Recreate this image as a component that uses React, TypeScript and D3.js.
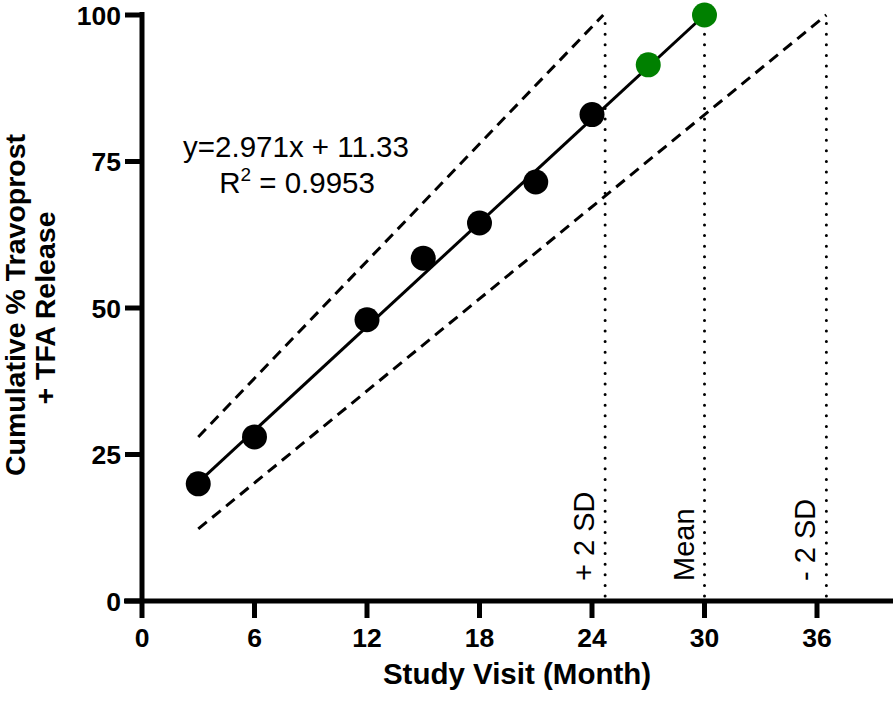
import React from "react";
import * as d3 from "d3";

const blackX = [3, 6, 12, 15, 18, 21, 24];
const blackY = [20, 28, 48, 58.5, 64.5, 71.5, 83];
const greenX = [27, 30];
const greenY = [91.5, 100];
const xTicks = [0, 6, 12, 18, 24, 30, 36];
const yTicks = [0, 25, 50, 75, 100];
const slope = 2.971;
const intercept = 11.33;
const fitRange = [3, 30];
const upperBand = [[3, 28], [24.6, 100]];
const lowerBand = [[3, 12.3], [36.5, 100]];
const vLines = [
  { x: 24.7, label: "+ 2 SD" },
  { x: 30, label: "Mean" },
  { x: 36.5, label: "- 2 SD" },
];

export default function App() {
  const W = 896, H = 702;
  const x = d3.scaleLinear().domain([0, 40]).range([142, 892]);
  const y = d3.scaleLinear().domain([0, 100]).range([601, 15]);
  const line = d3.line<number[]>().x((d) => x(d[0])).y((d) => y(d[1]));
  const fitPts = fitRange.map((v) => [v, Math.min(100, slope * v + intercept)]);
  const font = "'Liberation Sans', Arial, Helvetica, sans-serif";
  return (
    <svg width={W} height={H} style={{ position: "absolute", left: 0, top: 0, background: "#fff" }}>
      {/* vertical dotted lines */}
      {vLines.map((v) => (
        <g key={v.label}>
          <line x1={x(v.x)} x2={x(v.x)} y1={y(0) - 5} y2={y(100)} stroke="#000" strokeWidth={3}
            strokeDasharray="0 10.6" strokeLinecap="round" />
          <text transform={`translate(${x(v.x) - 11},${y(0) - 20}) rotate(-90)`} fontFamily={font}
            fontSize={29} fill="#000">{v.label}</text>
        </g>
      ))}
      {/* dashed bands */}
      <path d={line(upperBand) || ""} stroke="#000" strokeWidth={3} strokeDasharray="11 7" fill="none" />
      <path d={line(lowerBand) || ""} stroke="#000" strokeWidth={3} strokeDasharray="11 7" fill="none" />
      {/* fit line */}
      <path d={line(fitPts) || ""} stroke="#000" strokeWidth={3} fill="none" />
      {/* points */}
      {blackX.map((v, i) => (
        <circle key={"b" + i} cx={x(v)} cy={y(blackY[i])} r={12.5} fill="#000" />
      ))}
      {greenX.map((v, i) => (
        <circle key={"g" + i} cx={x(v)} cy={y(greenY[i])} r={12.5} fill="#008000" />
      ))}
      {/* axes */}
      <line x1={x(0)} x2={x(0)} y1={y(100) - 3} y2={y(0) + 2} stroke="#000" strokeWidth={5} />
      <line x1={124} x2={893} y1={y(0)} y2={y(0)} stroke="#000" strokeWidth={5} />
      {yTicks.map((t) => (
        <g key={"y" + t}>
          <line x1={125} x2={x(0)} y1={y(t)} y2={y(t)} stroke="#000" strokeWidth={5} />
          <text x={121} y={y(t) + 9.5} textAnchor="end" fontFamily={font} fontWeight="bold"
            fontSize={26.5} fill="#000">{t}</text>
        </g>
      ))}
      {xTicks.map((t) => (
        <g key={"x" + t}>
          <line x1={x(t)} x2={x(t)} y1={y(0)} y2={618} stroke="#000" strokeWidth={5} />
          <text x={x(t)} y={647} textAnchor="middle" fontFamily={font} fontWeight="bold"
            fontSize={26.5} fill="#000">{t}</text>
        </g>
      ))}
      {/* axis titles */}
      <text x={517} y={684} textAnchor="middle" fontFamily={font} fontWeight="bold" fontSize={29.5}
        fill="#000">Study Visit (Month)</text>
      <text transform={`translate(25,305) rotate(-90)`} textAnchor="middle" fontFamily={font}
        fontWeight="bold" fontSize={28.5} fill="#000">Cumulative % Travoprost</text>
      <text transform={`translate(55,308) rotate(-90)`} textAnchor="middle" fontFamily={font}
        fontWeight="bold" fontSize={28.5} fill="#000">+ TFA Release</text>
      {/* equation */}
      <text x={296} y={157} textAnchor="middle" fontFamily={font} fontSize={29.5} fill="#000">
        y=2.971x + 11.33
      </text>
      <text x={297} y={193} textAnchor="middle" fontFamily={font} fontSize={29.5} fill="#000">
        R<tspan dy={-12} fontSize={19}>2</tspan><tspan dy={12}> = 0.9953</tspan>
      </text>
    </svg>
  );
}
